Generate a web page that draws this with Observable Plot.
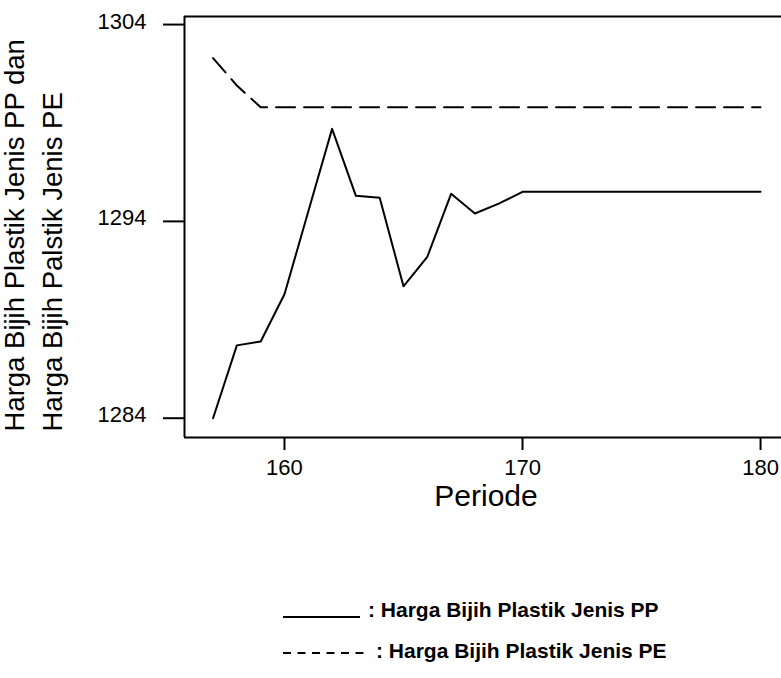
<!DOCTYPE html>
<html>
<head>
<meta charset="utf-8">
<script src="https://cdn.jsdelivr.net/npm/d3@7"></script>
<script src="https://cdn.jsdelivr.net/npm/@observablehq/plot@0.6"></script>
<style>
  html, body { margin: 0; padding: 0; background: white; }
  #wrap { position: relative; width: 781px; height: 678px; overflow: hidden; font-family: "Liberation Sans", Arial, sans-serif; }
  #legend { position: absolute; left: 0; top: 560px; }
</style>
</head>
<body>
<div id="wrap">
  <div id="chart"></div>
  <svg id="legend" width="781" height="118">
    <line x1="283" x2="360" y1="57" y2="57" stroke="black" stroke-width="2"></line>
    <text x="368" y="57" font-family="Liberation Sans, Arial, sans-serif" font-weight="bold" font-size="21" fill="black">: Harga Bijih Plastik Jenis PP</text>
    <line x1="283" x2="369" y1="93" y2="93" stroke="black" stroke-width="2" stroke-dasharray="8,6.5"></line>
    <text x="376" y="98" font-family="Liberation Sans, Arial, sans-serif" font-weight="bold" font-size="21" fill="black">: Harga Bijih Plastik Jenis PE</text>
  </svg>
</div>
<script>
// Data
const periods = [157,158,159,160,161,162,163,164,165,166,167,168,169,170,171,172,173,174,175,176,177,178,179,180];
const hargaPP = [1284.0,1287.7,1287.9,1290.3,1294.5,1298.7,1295.3,1295.2,1290.7,1292.2,1295.4,1294.4,1294.9,1295.5,1295.5,1295.5,1295.5,1295.5,1295.5,1295.5,1295.5,1295.5,1295.5,1295.5];
const hargaPE = [1302.3,1300.9,1299.8,1299.8,1299.8,1299.8,1299.8,1299.8,1299.8,1299.8,1299.8,1299.8,1299.8,1299.8,1299.8,1299.8,1299.8,1299.8,1299.8,1299.8,1299.8,1299.8,1299.8,1299.8];
const xTicks = [160, 170, 180];
const yTicks = [1284, 1294, 1304];
const xDomain = [155.8, 180.88];
const yDomain = [1283.02, 1304.41];
const yTitle1 = "Harga Bijih Plastik Jenis PP dan";
const yTitle2 = "Harga Bijih Palstik Jenis PE";
const xTitle = "Periode";

const pp = periods.map((p, i) => ({periode: p, harga: hargaPP[i]}));
const pe = periods.map((p, i) => ({periode: p, harga: hargaPE[i]}));

const chart = Plot.plot({
  width: 781,
  height: 560,
  marginLeft: 184,
  marginRight: 0,
  marginTop: 16,
  marginBottom: 123,
  style: {fontFamily: "Liberation Sans, Arial, sans-serif", fontSize: "22px", background: "white", color: "black"},
  x: {domain: xDomain},
  y: {domain: yDomain},
  marks: [
    Plot.axisX({ticks: xTicks, tickSize: 13, tickPadding: 9, strokeWidth: 2, fontSize: 22, tickFormat: d => String(d), label: null}),
    Plot.axisY({ticks: yTicks, tickSize: 21, tickFormat: () => "", strokeWidth: 2, label: null}),
    Plot.axisY({ticks: yTicks, tickSize: 0, tickPadding: 38, dy: -3, fontSize: 22, tickFormat: d => String(d), label: null}),
    Plot.ruleX([xDomain[0]], {stroke: "black", strokeWidth: 2}),
    Plot.ruleY([yDomain[0]], {stroke: "black", strokeWidth: 2}),
    Plot.ruleY([yDomain[1]], {stroke: "black", strokeWidth: 2}),
    Plot.line(pp, {x: "periode", y: "harga", stroke: "black", strokeWidth: 2}),
    Plot.line(pe, {x: "periode", y: "harga", stroke: "black", strokeWidth: 2, strokeDasharray: "19,9"}),
    Plot.text([xTitle], {text: d => d, frameAnchor: "bottom", dx: 3, dy: 68, fontSize: 30, fill: "black"}),
    Plot.text([yTitle1], {text: d => d, frameAnchor: "bottom-left", rotate: -90, textAnchor: "start", dx: 23 - 184, dy: -6, fontSize: 27.5, fill: "black"}),
    Plot.text([yTitle2], {text: d => d, frameAnchor: "bottom-left", rotate: -90, textAnchor: "start", dx: 61 - 184, dy: -6, fontSize: 27.5, fill: "black"})
  ]
});
document.getElementById("chart").appendChild(chart);
</script>
</body>
</html>
